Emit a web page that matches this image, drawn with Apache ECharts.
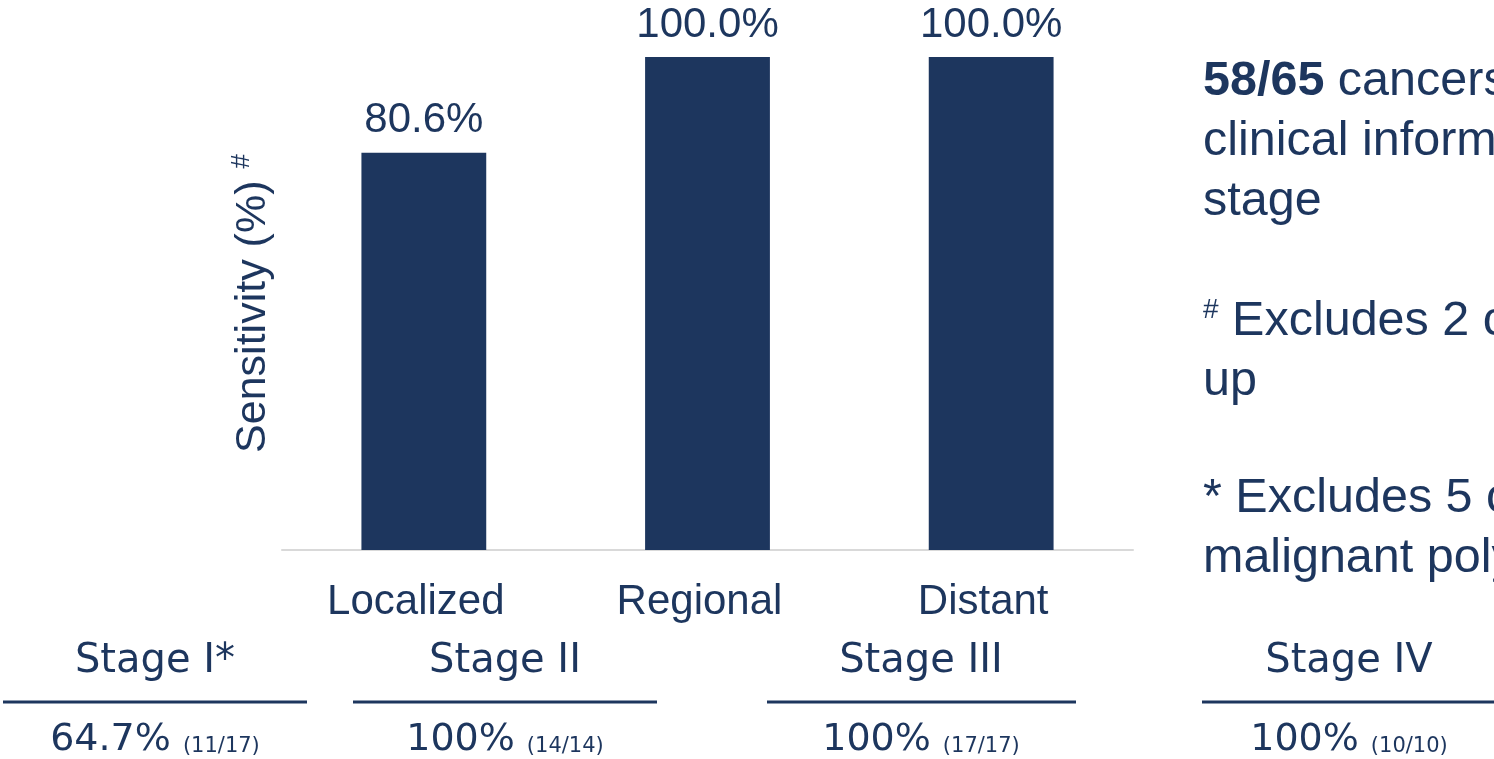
<!DOCTYPE html>
<html>
<head>
<meta charset="utf-8">
<title>Sensitivity by stage</title>
<script src="https://cdn.jsdelivr.net/npm/echarts@6/dist/echarts.min.js"></script>
<style>
  html, body { margin: 0; padding: 0; background: #ffffff; }
  #chart { width: 1494px; height: 759px; }
</style>
</head>
<body>
<div id="chart"></div>
<script>
// Sensitivity by SEER summary stage
const categories = ['Localized', 'Regional', 'Distant'];
const sensitivity = [80.6, 100.0, 100.0];

// Sensitivity by AJCC stage
const stageNames = ['Stage I*', 'Stage II', 'Stage III', 'Stage IV'];
const stagePct = ['64.7%', '100%', '100%', '100%'];
const stageCounts = ['(11/17)', '(14/14)', '(17/17)', '(10/10)'];

// Footnote lines shown on the right
const noteLines = [
  ['{b|58/65} cancers with available', 'clinical information on cancer', 'stage'],
  ['{s|#} Excludes 2 cancers lost to follow-', 'up'],
  ['* Excludes 5 cancers found in', 'malignant polyps']
];

const NAVY = '#1d365e';
const SANS = '"Liberation Sans", Arial, sans-serif';
const STAGE_FONT = '"DejaVu Sans", sans-serif';

// Layout of the stage table under the chart
const stageCenters = [155, 505, 921, 1349];
const stageRules = [[3, 307], [353, 657], [767, 1076], [1202, 1500]];

const chart = echarts.init(document.getElementById('chart'), null, { renderer: 'canvas' });

const graphics = [];
stageNames.forEach((name, i) => {
  const cx = stageCenters[i];
  graphics.push({
    type: 'text', x: cx, y: 662,
    style: { text: name, fill: NAVY, font: 'normal 40px ' + STAGE_FONT, textAlign: 'center', textVerticalAlign: 'middle' }
  });
  graphics.push({
    type: 'line',
    shape: { x1: stageRules[i][0], y1: 702, x2: stageRules[i][1], y2: 702 },
    style: { stroke: NAVY, lineWidth: 3 }
  });
  graphics.push({
    type: 'text', x: cx, y: 740,
    style: {
      text: '{p|' + stagePct[i] + '}{c|' + stageCounts[i] + '}',
      textAlign: 'center', textVerticalAlign: 'middle',
      rich: {
        p: { fontFamily: STAGE_FONT, fontWeight: 'normal', fontSize: 38, fill: NAVY, color: NAVY, verticalAlign: 'bottom' },
        c: { fontFamily: STAGE_FONT, fontWeight: 'normal', fontSize: 21, fill: NAVY, color: NAVY, verticalAlign: 'bottom', padding: [0, 0, 2, 12] }
      }
    }
  });
});

const noteTops = [52, 292, 469];
noteLines.forEach((lines, i) => {
  graphics.push({
    type: 'text', x: 1203, y: noteTops[i],
    style: {
      text: lines.join('\n'),
      fill: NAVY,
      font: '48.5px ' + SANS,
      lineHeight: 60,
      textAlign: 'left',
      textVerticalAlign: 'top',
      rich: {
        b: { fontFamily: SANS, fontSize: 48.5, fontWeight: 'bold', fill: NAVY, color: NAVY, lineHeight: 60 },
        s: { fontFamily: SANS, fontSize: 28, fill: NAVY, color: NAVY, lineHeight: 60, verticalAlign: 'top', padding: [4, 0, 0, 0] }
      }
    }
  });
});

chart.setOption({
  backgroundColor: '#ffffff',
  animation: false,
  grid: { left: 282, right: 361, top: 57, bottom: 209, containLabel: false },
  xAxis: {
    type: 'category',
    data: categories,
    axisLine: { show: true, lineStyle: { color: '#d9d9d9', width: 2 } },
    axisTick: { show: false },
    axisLabel: { color: NAVY, fontFamily: SANS, fontSize: 42, margin: 31, padding: [0, 16, 0, 0] }
  },
  yAxis: {
    type: 'value',
    min: 0,
    max: 100,
    axisLine: { show: false },
    axisTick: { show: false },
    axisLabel: { show: false },
    splitLine: { show: false },
    name: '{m|Sensitivity (%) }{s|#}',
    nameLocation: 'middle',
    nameRotate: 90,
    nameGap: 5,
    nameTextStyle: {
      rich: {
        m: { fontFamily: SANS, fontSize: 43, color: NAVY, lineHeight: 48 },
        s: { fontFamily: SANS, fontSize: 26, color: NAVY, lineHeight: 48, verticalAlign: 'top' }
      }
    }
  },
  series: [{
    type: 'bar',
    data: sensitivity,
    barWidth: '44%',
    itemStyle: { color: NAVY },
    label: {
      show: true,
      position: 'top',
      distance: 11,
      color: NAVY,
      fontFamily: SANS,
      fontSize: 42,
      formatter: p => p.value.toFixed(1) + '%'
    }
  }],
  graphic: graphics
});
</script>
</body>
</html>
